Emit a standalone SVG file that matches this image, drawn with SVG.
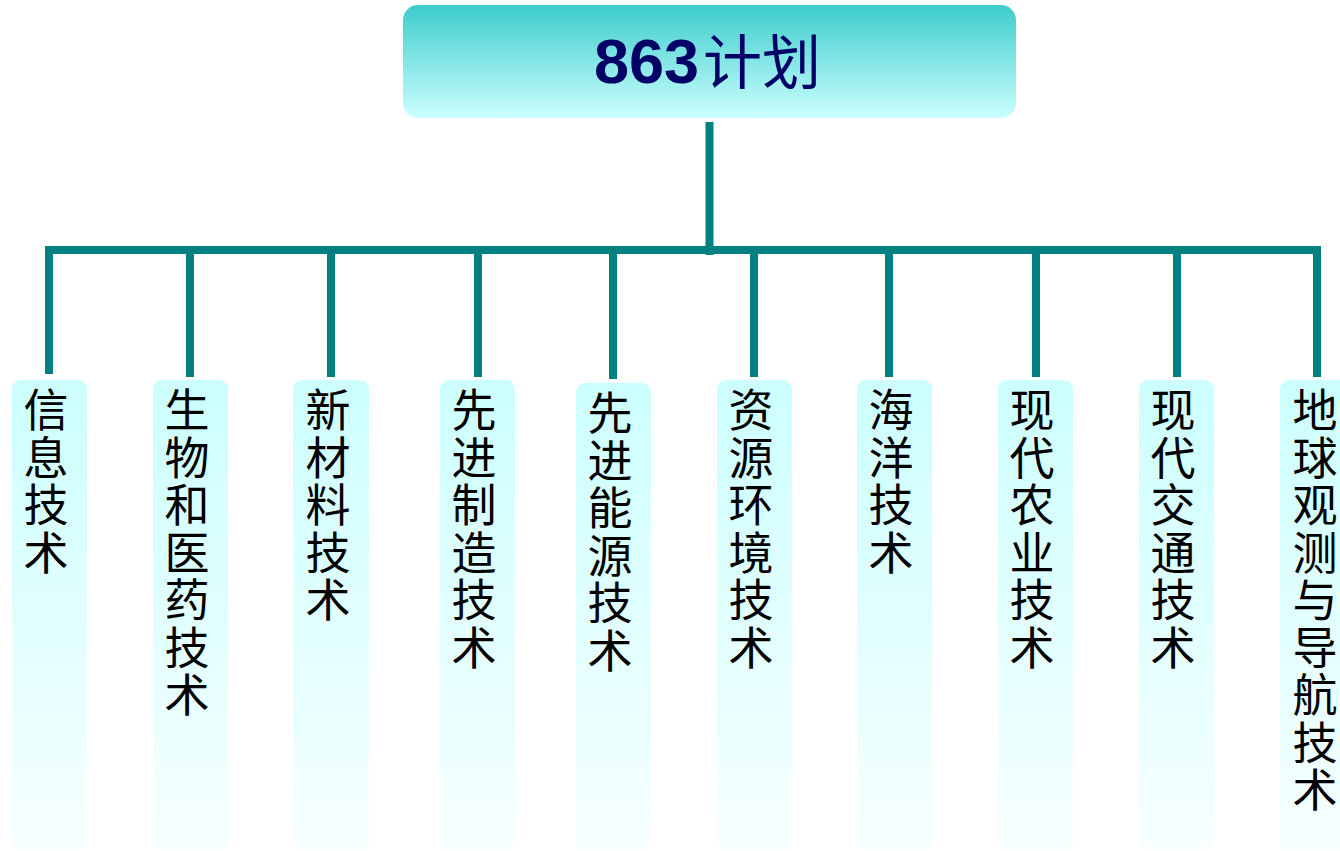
<svg xmlns="http://www.w3.org/2000/svg" width="1340" height="851" viewBox="0 0 1340 851">
<defs>
<linearGradient id="gTop" x1="0" y1="0" x2="0" y2="1">
<stop offset="0" stop-color="#3dcccc"/>
<stop offset="1" stop-color="#ccffff"/>
</linearGradient>
<linearGradient id="gBox" x1="0" y1="0" x2="0" y2="1">
<stop offset="0" stop-color="#ccffff"/>
<stop offset="1" stop-color="#f7ffff"/>
</linearGradient>
</defs>
<style>
.conn{stroke:#008080;stroke-width:8;fill:none;stroke-linecap:butt}
.box{fill:url(#gBox)}
.lbl{font-family:"Noto Sans CJK SC","Noto Sans",sans-serif;font-size:45px;fill:#000000;text-anchor:middle}
.t1{font-family:"Liberation Sans",Arial,sans-serif;font-weight:bold;font-size:63px;fill:#000066}
.t2{font-family:"Noto Sans CJK SC",sans-serif;font-size:59px;fill:#000066}
</style>
<rect width="1340" height="851" fill="#ffffff"/>
<g id="connectors">
<line class="conn" x1="709.5" y1="122" x2="709.5" y2="255"/>
<line class="conn" x1="45" y1="250" x2="1321" y2="250"/>
<line class="conn" x1="49" y1="246" x2="49" y2="374"/>
<line class="conn" x1="190" y1="250" x2="190" y2="377"/>
<line class="conn" x1="331" y1="250" x2="331" y2="377"/>
<line class="conn" x1="478" y1="250" x2="478" y2="377"/>
<line class="conn" x1="613" y1="250" x2="613" y2="379"/>
<line class="conn" x1="754" y1="250" x2="754" y2="377"/>
<line class="conn" x1="889" y1="250" x2="889" y2="377"/>
<line class="conn" x1="1036" y1="250" x2="1036" y2="377"/>
<line class="conn" x1="1177" y1="250" x2="1177" y2="377"/>
<line class="conn" x1="1317" y1="246" x2="1317" y2="377"/>
</g>
<g id="root">
<rect x="403" y="5" width="613" height="113" rx="15" fill="url(#gTop)"/>
<text x="594" y="83" class="t1">863</text>
<text x="703" y="84" class="t2">计划</text>
</g>
<g id="n1"><rect class="box" x="12" y="380" width="75" height="470" rx="9"/>
<text class="lbl" y="427"><tspan x="46">信</tspan><tspan x="46" dy="47.5">息</tspan><tspan x="46" dy="47.5">技</tspan><tspan x="46" dy="47.5">术</tspan></text></g>
<g id="n2"><rect class="box" x="153" y="380" width="75" height="470" rx="9"/>
<text class="lbl" y="427"><tspan x="187">生</tspan><tspan x="187" dy="47.5">物</tspan><tspan x="187" dy="47.5">和</tspan><tspan x="187" dy="47.5">医</tspan><tspan x="187" dy="47.5">药</tspan><tspan x="187" dy="47.5">技</tspan><tspan x="187" dy="47.5">术</tspan></text></g>
<g id="n3"><rect class="box" x="293" y="380" width="76" height="470" rx="9"/>
<text class="lbl" y="427"><tspan x="328">新</tspan><tspan x="328" dy="47.5">材</tspan><tspan x="328" dy="47.5">料</tspan><tspan x="328" dy="47.5">技</tspan><tspan x="328" dy="47.5">术</tspan></text></g>
<g id="n4"><rect class="box" x="440" y="380" width="75" height="470" rx="9"/>
<text class="lbl" y="427"><tspan x="474">先</tspan><tspan x="474" dy="47.5">进</tspan><tspan x="474" dy="47.5">制</tspan><tspan x="474" dy="47.5">造</tspan><tspan x="474" dy="47.5">技</tspan><tspan x="474" dy="47.5">术</tspan></text></g>
<g id="n5"><rect class="box" x="576" y="383" width="75" height="467" rx="9"/>
<text class="lbl" y="430"><tspan x="610">先</tspan><tspan x="610" dy="47.5">进</tspan><tspan x="610" dy="47.5">能</tspan><tspan x="610" dy="47.5">源</tspan><tspan x="610" dy="47.5">技</tspan><tspan x="610" dy="47.5">术</tspan></text></g>
<g id="n6"><rect class="box" x="717" y="380" width="75" height="470" rx="9"/>
<text class="lbl" y="427"><tspan x="751">资</tspan><tspan x="751" dy="47.5">源</tspan><tspan x="751" dy="47.5">环</tspan><tspan x="751" dy="47.5">境</tspan><tspan x="751" dy="47.5">技</tspan><tspan x="751" dy="47.5">术</tspan></text></g>
<g id="n7"><rect class="box" x="857" y="380" width="75" height="470" rx="9"/>
<text class="lbl" y="427"><tspan x="891">海</tspan><tspan x="891" dy="47.5">洋</tspan><tspan x="891" dy="47.5">技</tspan><tspan x="891" dy="47.5">术</tspan></text></g>
<g id="n8"><rect class="box" x="998" y="380" width="75" height="470" rx="9"/>
<text class="lbl" y="427"><tspan x="1032">现</tspan><tspan x="1032" dy="47.5">代</tspan><tspan x="1032" dy="47.5">农</tspan><tspan x="1032" dy="47.5">业</tspan><tspan x="1032" dy="47.5">技</tspan><tspan x="1032" dy="47.5">术</tspan></text></g>
<g id="n9"><rect class="box" x="1139" y="380" width="75" height="470" rx="9"/>
<text class="lbl" y="427"><tspan x="1173">现</tspan><tspan x="1173" dy="47.5">代</tspan><tspan x="1173" dy="47.5">交</tspan><tspan x="1173" dy="47.5">通</tspan><tspan x="1173" dy="47.5">技</tspan><tspan x="1173" dy="47.5">术</tspan></text></g>
<g id="n10"><rect class="box" x="1280" y="380" width="75" height="470" rx="9"/>
<text class="lbl" y="427"><tspan x="1315">地</tspan><tspan x="1315" dy="47.5">球</tspan><tspan x="1315" dy="47.5">观</tspan><tspan x="1315" dy="47.5">测</tspan><tspan x="1315" dy="47.5">与</tspan><tspan x="1315" dy="47.5">导</tspan><tspan x="1315" dy="47.5">航</tspan><tspan x="1315" dy="47.5">技</tspan><tspan x="1315" dy="47.5">术</tspan></text></g>
</svg>
